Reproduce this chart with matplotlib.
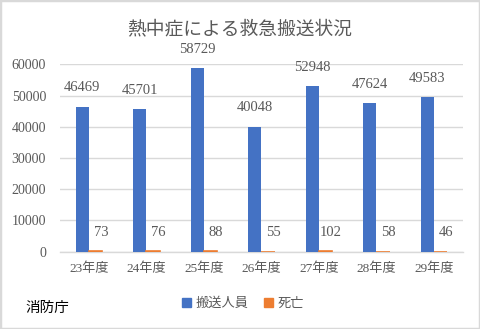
import matplotlib
matplotlib.use("Agg")
import matplotlib.pyplot as plt
import numpy as np
from matplotlib.patches import Rectangle, Patch

categories = ["23年度", "24年度", "25年度", "26年度", "27年度", "28年度", "29年度"]
transported = [46469, 45701, 58729, 40048, 52948, 47624, 49583]
deaths = [73, 76, 88, 55, 102, 58, 46]
series_names = ["搬送人員", "死亡"]
yticks = [0, 10000, 20000, 30000, 40000, 50000, 60000]

FAM = ["Liberation Serif", "Noto Sans CJK JP", "DejaVu Sans"]
plt.rcParams['font.family'] = FAM
GRAY = "#595959"
BLUE = "#4472C4"
ORANGE = "#ED7D31"
GRID = "#D9D9D9"

fig = plt.figure(figsize=(4.8, 3.29), dpi=100)
ax = fig.add_axes([0.125, 0.235, 0.839, 0.5696])

x = np.arange(len(categories))
w = 0.23
ax.bar(x - w/2, transported, width=w, color=BLUE, zorder=3)
ax.bar(x + w/2, deaths, width=w, color=ORANGE, edgecolor=ORANGE, linewidth=1.2, zorder=3)

for xi, v in zip(x, transported):
    ax.annotate(str(v), (xi - w/2, v), xytext=(0, 13.5), textcoords="offset points",
                ha="center", va="center", fontsize=10.5, color=GRAY, annotation_clip=False)
for xi, v in zip(x, deaths):
    ax.annotate(str(v), (xi + w/2, v), xytext=(4, 13.5), textcoords="offset points",
                ha="center", va="center", fontsize=10.5, color=GRAY, annotation_clip=False)

ax.set_xlim(-0.5, len(categories) - 0.5)
ax.set_ylim(0, 60000)
ax.set_yticks(yticks)
ax.set_yticklabels([str(t) for t in yticks])
ax.set_xticks(x)
ax.set_xticklabels(categories)
ax.tick_params(axis="both", length=0, labelsize=10, colors=GRAY)
ax.tick_params(axis="x", labelsize=9.5)
ax.tick_params(axis="y", pad=10)
ax.tick_params(axis="x", pad=8)
ax.yaxis.grid(True, color=GRID, linewidth=1, zorder=0)
ax.set_axisbelow(True)
for s in ["top", "right", "left"]:
    ax.spines[s].set_visible(False)
ax.spines["bottom"].set_color(GRID)
ax.spines["bottom"].set_linewidth(1)

fig.text(0.5, 1 - 29/329, "熱中症による救急搬送状況", ha="center", va="center",
         fontsize=13.5, color=GRAY)
fig.text(25/480, 1 - 308/329, "消防庁", ha="left", va="center", fontsize=10.5, color="black")

handles = [Patch(color=BLUE), Patch(color=ORANGE)]
fig.legend(handles, series_names, loc="center", bbox_to_anchor=(243/480, 1 - 304/329),
           ncol=2, frameon=False, fontsize=9.5, labelcolor=GRAY,
           handlelength=0.7, handleheight=0.7, handletextpad=0.3, columnspacing=1.2)

fig.patches.append(Rectangle((0, 0), 1, 1, transform=fig.transFigure, fill=False,
                             edgecolor=GRID, linewidth=2.5, zorder=10))

fig.savefig("out.png", dpi=100, facecolor="white")
